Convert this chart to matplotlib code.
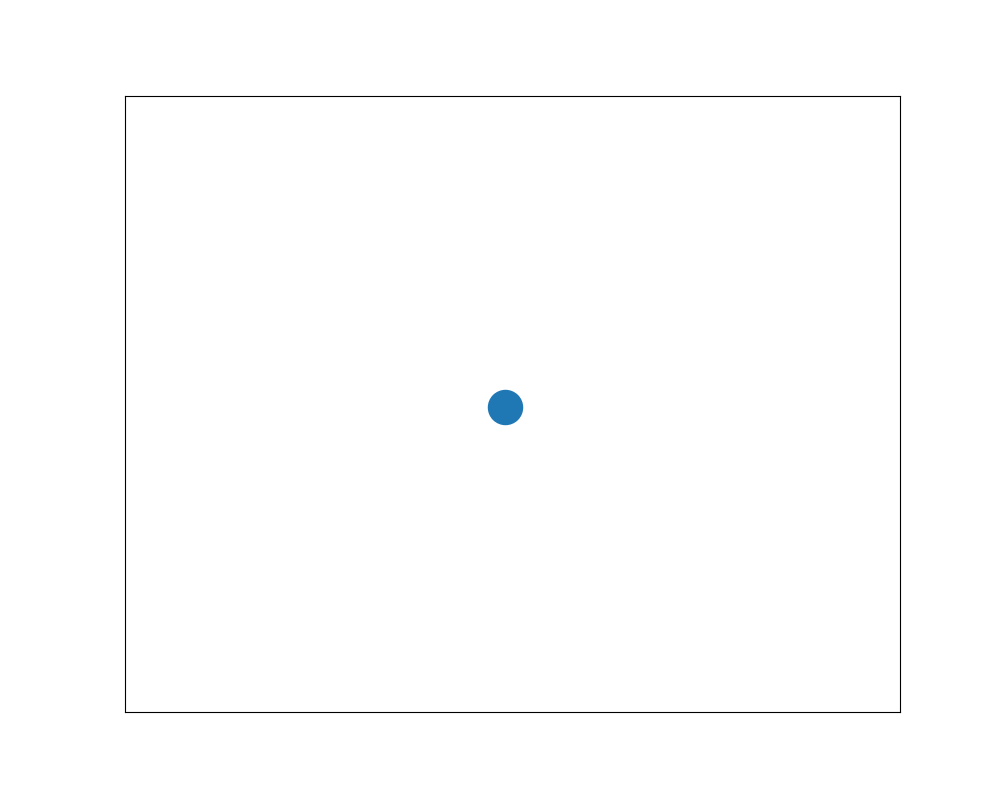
import matplotlib

matplotlib.use("Agg")
import matplotlib.pyplot as plt

# single point, axes limits 0..1
xs = [0.490]
ys = [0.495]

fig, ax = plt.subplots(figsize=(10, 8), dpi=100)
ax.scatter(xs, ys, s=600, color="#1f77b4")
ax.set_xlim(0, 1)
ax.set_ylim(0, 1)
ax.set_xticks([])
ax.set_yticks([])
fig.savefig("out.png", dpi=100)
plt.close(fig)
